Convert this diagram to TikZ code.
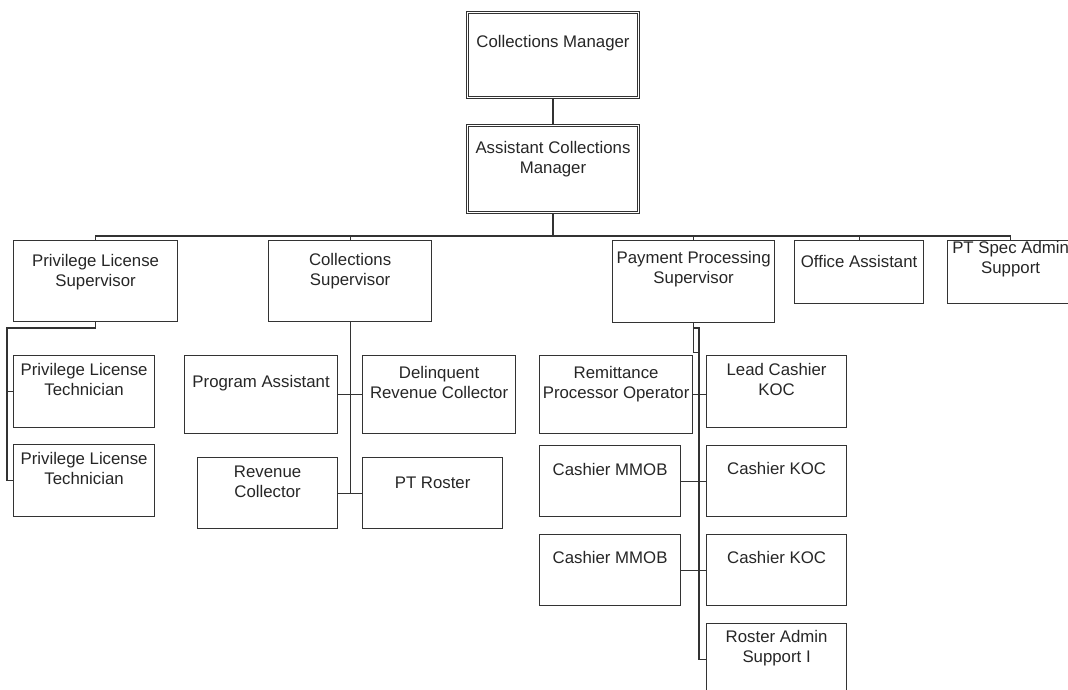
\documentclass[tikz,border=0pt]{standalone}
\usepackage{fontspec}
\setmainfont{Liberation Sans}
\begin{document}
\begin{tikzpicture}[x=1pt, y=-1pt,
    box/.style={draw=black!80, line width=1.2pt, rectangle, inner sep=0pt, anchor=north west},
    topbox/.style={box, double, double distance=1.2pt, line width=1pt},
    txt/.style={anchor=base, align=center, inner sep=0pt, text=black!85,
      font=\fontsize{16.8}{19.5}\selectfont},
    wire/.style={draw=black!80, line width=1.2pt}]
    \useasboundingbox (0,0) rectangle (1068,690);
    %% managers
    \node[topbox, minimum width=171pt, minimum height=85pt] (cm) at (467,12) {};
    \node[topbox, minimum width=171pt, minimum height=87pt] (acm) at (467,125) {};
    %% supervisors and single posts
    \node[box, minimum width=164pt, minimum height=81pt] (pls) at (13,240) {};
    \node[box, minimum width=163pt, minimum height=81pt] (cs) at (268,240) {};
    \node[box, minimum width=162pt, minimum height=82pt] (pps) at (612,240) {};
    \node[box, minimum width=129pt, minimum height=63pt] (oa) at (794,240) {};
    \node[box, minimum width=126pt, minimum height=63pt] (psa) at (947,240) {};
    %% privilege license staff
    \node[box, minimum width=141pt, minimum height=72pt] (plt1) at (13,355) {};
    \node[box, minimum width=141pt, minimum height=72pt] (plt2) at (13,444) {};
    %% collections staff
    \node[box, minimum width=153pt, minimum height=78pt] (pa) at (184,355) {};
    \node[box, minimum width=153pt, minimum height=78pt] (drc) at (362,355) {};
    \node[box, minimum width=140pt, minimum height=71pt] (rc) at (197,457) {};
    \node[box, minimum width=140pt, minimum height=71pt] (ptr) at (362,457) {};
    %% payment processing staff
    \node[box, minimum width=153pt, minimum height=78pt] (rpo) at (539,355) {};
    \node[box, minimum width=140pt, minimum height=72pt] (lck) at (706,355) {};
    \node[box, minimum width=141pt, minimum height=71pt] (cmm1) at (539,445) {};
    \node[box, minimum width=140pt, minimum height=71pt] (ck1) at (706,445) {};
    \node[box, minimum width=141pt, minimum height=71pt] (cmm2) at (539,534) {};
    \node[box, minimum width=140pt, minimum height=71pt] (ck2) at (706,534) {};
    \node[box, minimum width=140pt, minimum height=71pt] (ras) at (706,623) {};
    %% labels (base of two-line labels is the second line)
    \node[txt] (cm-t) at ([yshift=-36pt]cm.north) {Collections Manager};
    \node[txt] (acm-t) at ([yshift=-48pt]acm.north) {Assistant Collections\\Manager};
    \node[txt] (pls-t) at ([yshift=-46pt]pls.north) {Privilege License\\Supervisor};
    \node[txt] (cs-t) at ([yshift=-45pt]cs.north) {Collections\\Supervisor};
    \node[txt] (pps-t) at ([yshift=-43pt]pps.north) {Payment Processing\\Supervisor};
    \node[txt] (oa-t) at ([yshift=-27pt]oa.north) {Office Assistant};
    \node[txt] (psa-t) at ([yshift=-33pt]psa.north) {PT Spec Admin\\Support};
    \node[txt] (plt1-t) at ([yshift=-40pt]plt1.north) {Privilege License\\Technician};
    \node[txt] (plt2-t) at ([yshift=-40pt]plt2.north) {Privilege License\\Technician};
    \node[txt] (pa-t) at ([yshift=-32pt]pa.north) {Program Assistant};
    \node[txt] (drc-t) at ([yshift=-43pt]drc.north) {Delinquent\\Revenue Collector};
    \node[txt] (rc-t) at ([yshift=-40pt]rc.north) {Revenue\\Collector};
    \node[txt] (ptr-t) at ([yshift=-31pt]ptr.north) {PT Roster};
    \node[txt] (rpo-t) at ([yshift=-43pt]rpo.north) {Remittance\\Processor Operator};
    \node[txt] (lck-t) at ([yshift=-40pt]lck.north) {Lead Cashier\\KOC};
    \node[txt] (cmm1-t) at ([yshift=-30pt]cmm1.north) {Cashier MMOB};
    \node[txt] (ck1-t) at ([yshift=-29pt]ck1.north) {Cashier KOC};
    \node[txt] (cmm2-t) at ([yshift=-29pt]cmm2.north) {Cashier MMOB};
    \node[txt] (ck2-t) at ([yshift=-29pt]ck2.north) {Cashier KOC};
    \node[txt] (ras-t) at ([yshift=-39pt]ras.north) {Roster Admin\\Support I};
    %% top chain and bus
    \coordinate (bus) at ([yshift=-23pt]acm.south);
    \draw[wire] (cm.south) -- (acm.north);
    \draw[wire] (acm.south) -- (bus) -| (pls.north);
    \draw[wire] (bus) -| (cs.north);
    \draw[wire] (bus) -| (pps.north);
    \draw[wire] (bus) -| (oa.north);
    \draw[wire] (bus) -| (psa.north);
    %% privilege license branch
    \coordinate (plsbend) at (7,328);
    \draw[wire] (pls.south) |- (plsbend) |- (plt1.west);
    \draw[wire] (plsbend) |- (plt2.west);
    %% collections branch
    \draw[wire] (cs.south) -- (cs.south |- rc.east);
    \draw[wire] (pa.east) -- (drc.west);
    \draw[wire] (rc.east) -- (ptr.west);
    %% payment processing branch
    \coordinate (ppsbus) at (699,328);
    \draw[wire] (pps.south) -- ++(0,29) -- ++(6,0);
    \draw[wire] (pps.south |- ppsbus) -- (ppsbus) |- (ras.west);
    \draw[wire] (rpo.east) -- (rpo.east -| lck.west);
    \draw[wire] (cmm1.east) -- (cmm1.east -| ck1.west);
    \draw[wire] (cmm2.east) -- (cmm2.east -| ck2.west);
\end{tikzpicture}
\end{document}
